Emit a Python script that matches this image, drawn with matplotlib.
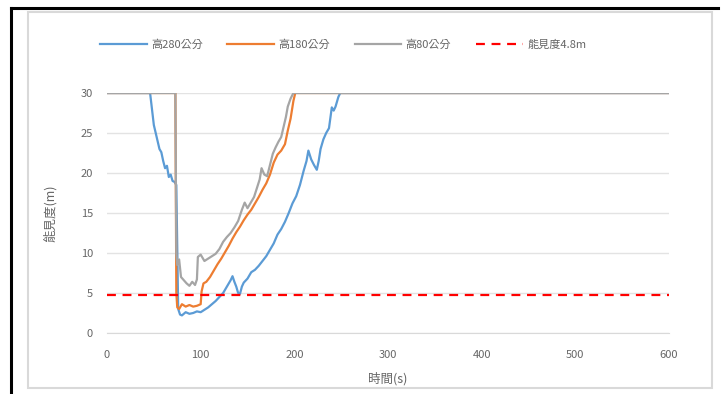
import matplotlib
matplotlib.use("Agg")
import matplotlib.pyplot as plt
from matplotlib.patches import Rectangle

plt.rcParams['font.family'] = ['Noto Sans CJK TC', 'DejaVu Sans']

# Visibility (m) over time (s) at three heights
t_280 = [0, 46, 48, 50, 52, 54, 56, 58, 60, 62, 64, 66, 68, 70, 72, 74, 76, 78, 80, 84, 88,
         92, 96, 100, 104, 108, 112, 116, 120, 124, 128, 132, 134, 136, 138, 140, 142, 144,
         146, 150, 154, 158, 162, 166, 170, 174, 178, 182, 186, 190, 194, 198, 202, 206, 210,
         213, 215, 218, 221, 224, 226, 228, 231, 234, 237, 240, 242, 244, 247, 249, 600]
v_280 = [30, 30, 28, 26, 25, 24, 23, 22.6, 21.5, 20.6, 20.9, 19.5, 19.8, 19, 18.9, 18.5, 3.0,
         2.3, 2.2, 2.6, 2.4, 2.5, 2.7, 2.6, 2.9, 3.2, 3.6, 4.0, 4.5, 5.0, 5.8, 6.6, 7.1, 6.4,
         5.8, 5.0, 4.9, 5.8, 6.3, 6.8, 7.6, 7.9, 8.4, 9.0, 9.6, 10.4, 11.2, 12.3, 13.0, 13.9,
         15.0, 16.2, 17.1, 18.5, 20.3, 21.5, 22.8, 21.7, 21.0, 20.4, 21.5, 23.0, 24.2, 25.0,
         25.6, 28.2, 27.8, 28.3, 29.5, 30, 30]

t_180 = [0, 73, 74, 75, 77, 80, 84, 88, 92, 96, 100, 101, 103, 106, 110, 114, 118, 122, 126,
         130, 134, 138, 142, 146, 150, 154, 158, 162, 166, 170, 174, 178, 182, 186, 190, 193,
         196, 199, 201, 600]
v_180 = [30, 30, 5.0, 3.2, 3.0, 3.6, 3.3, 3.5, 3.3, 3.4, 3.6, 5.2, 6.2, 6.4, 7.0, 7.8, 8.6,
         9.3, 10.1, 10.9, 11.8, 12.6, 13.3, 14.1, 14.8, 15.4, 16.2, 17.0, 17.9, 18.7, 19.8,
         21.3, 22.3, 22.8, 23.6, 25.3, 26.8, 29.0, 30, 30]

t_80 = [0, 73, 74, 75, 77, 79, 82, 85, 88, 91, 94, 96, 97, 100, 104, 108, 112, 116, 120, 124,
        128, 132, 136, 140, 144, 147, 150, 153, 157, 160, 163, 165, 168, 171, 174, 177, 180,
        183, 186, 188, 191, 193, 196, 199, 600]
v_80 = [30, 30, 10.0, 8.5, 9.2, 7.0, 6.6, 6.2, 5.9, 6.4, 6.0, 6.7, 9.5, 9.8, 9.0, 9.3, 9.6,
        9.9, 10.5, 11.4, 12.0, 12.5, 13.2, 14.0, 15.4, 16.3, 15.6, 16.2, 17.0, 18.1, 19.2,
        20.6, 19.8, 19.6, 21.0, 22.4, 23.2, 23.9, 24.5, 25.5, 27.0, 28.3, 29.3, 30, 30]

threshold = 4.8

labels = ['高280公分', '高180公分', '高80公分', '能見度4.8m']
x_ticks = [0, 100, 200, 300, 400, 500, 600]
y_ticks = [0, 5, 10, 15, 20, 25, 30]

text_color = '#666666'

fig = plt.figure(figsize=(7.21, 3.94), dpi=100)

# outer frame and chart-area border
fig.add_artist(Rectangle((28 / 721, 6 / 394), 684 / 721, 376 / 394,
                         transform=fig.transFigure, fill=False,
                         edgecolor='#d9d9d9', linewidth=1.5))
fig.add_artist(plt.Line2D([11 / 721, 11 / 721], [0, 1 - 8 / 394],
                          transform=fig.transFigure, color='black', linewidth=2.2))
fig.add_artist(plt.Line2D([11 / 721, 718 / 721], [1 - 8 / 394, 1 - 8 / 394],
                          transform=fig.transFigure, color='black', linewidth=2.2))

ax = fig.add_axes([107 / 721, 61 / 394, 562 / 721, 240 / 394])

ax.plot(t_280, v_280, color='#5B9BD5', linewidth=1.6, label=labels[0])
ax.plot(t_180, v_180, color='#ED7D31', linewidth=1.6, label=labels[1])
ax.plot(t_80, v_80, color='#A5A5A5', linewidth=1.6, label=labels[2])
ax.axhline(threshold, color='#FF0000', linewidth=1.6, linestyle=(0, (4, 3)),
           label=labels[3])

ax.set_xlim(0, 600)
ax.set_ylim(0, 30)
ax.set_xticks(x_ticks)
ax.set_yticks(y_ticks)
ax.grid(axis='y', color='#e3e3e3', linewidth=1)
ax.set_axisbelow(True)
for side in ['left', 'right', 'top']:
    ax.spines[side].set_visible(False)
ax.spines['bottom'].set_color('#d9d9d9')
ax.tick_params(axis='x', length=0, labelsize=8, labelcolor=text_color, pad=12)
ax.tick_params(axis='y', length=0, labelsize=8, labelcolor=text_color, pad=10)

ax.set_xlabel('時間(s)', fontsize=9, color=text_color, labelpad=9)
ax.set_ylabel('能見度(m)', fontsize=9, color=text_color, labelpad=17)

ax.legend(loc='center', bbox_to_anchor=(0.42, 1.2), ncol=4, frameon=False,
          fontsize=8, labelcolor=text_color, handlelength=4.2, columnspacing=2.2,
          handletextpad=0.4)

fig.savefig('out.png', dpi=100, facecolor='white')
